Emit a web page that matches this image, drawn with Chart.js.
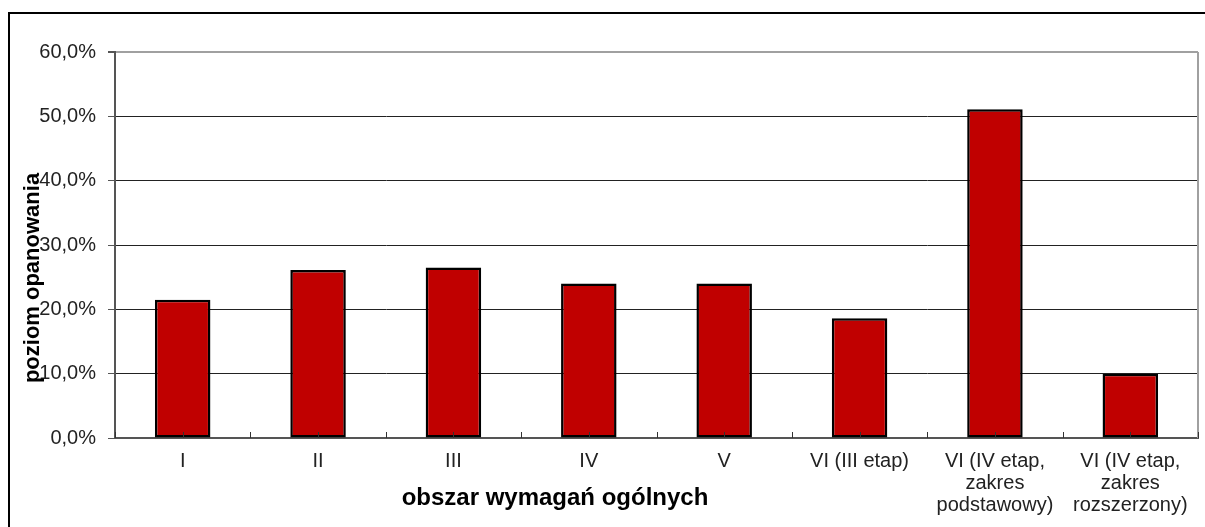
<!DOCTYPE html>
<html>
<head>
<meta charset="utf-8">
<script src="https://cdn.jsdelivr.net/npm/chart.js@4/dist/chart.umd.min.js"></script>
<style>
  html, body { margin: 0; padding: 0; background: #fff; }
  #wrap { width: 1205px; height: 527px; }
</style>
</head>
<body>
<div id="wrap"><canvas id="chart" width="1205" height="527"></canvas></div>
<script>
const categories = [
  'I', 'II', 'III', 'IV', 'V', 'VI (III etap)',
  ['VI (IV etap,', 'zakres', 'podstawowy)'],
  ['VI (IV etap,', 'zakres', 'rozszerzony)']
];
const values = [21.5, 26.1, 26.5, 24.0, 24.0, 18.6, 51.1, 10.0];
const yTitle = 'poziom opanowania';
const xTitle = 'obszar wymagań ogólnych';

const fontFamily = '"Liberation Sans", Arial, sans-serif';

// frame, inner x ticks and axis titles the way Excel draws them
const excelBits = {
  id: 'excelBits',
  afterDraw(chart) {
    const ctx = chart.ctx;
    const area = chart.chartArea;
    const x = chart.scales.x;
    ctx.save();
    // outer frame
    ctx.strokeStyle = '#000';
    ctx.lineWidth = 2;
    ctx.strokeRect(9, 13, 1220, 540);
    // plot area right border
    ctx.strokeStyle = '#a0a0a0';
    ctx.lineWidth = 2;
    ctx.beginPath();
    ctx.moveTo(area.right, area.top);
    ctx.lineTo(area.right, area.bottom);
    ctx.stroke();
    // small ticks pointing up at category edges and centres
    ctx.strokeStyle = '#333';
    ctx.lineWidth = 1;
    const n = categories.length;
    const step = (area.right - area.left) / n;
    ctx.beginPath();
    for (let i = 0; i <= n; i++) {
      const px = Math.round(area.left + i * step) + 0.5;
      ctx.moveTo(px, area.bottom);
      ctx.lineTo(px, area.bottom - 6);
      if (i < n) {
        const c = Math.round(x.getPixelForValue(i)) + 0.5;
        ctx.moveTo(c, area.bottom);
        ctx.lineTo(c, area.bottom - 6);
      }
    }
    ctx.stroke();
    // axis titles
    ctx.fillStyle = '#000';
    ctx.textAlign = 'center';
    ctx.textBaseline = 'middle';
    ctx.font = 'bold 24px ' + fontFamily;
    ctx.fillText(xTitle, 555, 498);
    ctx.translate(33, 278);
    ctx.rotate(-Math.PI / 2);
    ctx.font = 'bold 22px ' + fontFamily;
    ctx.fillText(yTitle, 0, 0);
    ctx.restore();
  }
};

new Chart(document.getElementById('chart'), {
  type: 'bar',
  data: {
    labels: categories,
    datasets: [{
      data: values,
      backgroundColor: '#C00000',
      borderColor: '#000',
      borderWidth: 2.5,
      borderSkipped: false,
      barPercentage: 0.41,
      categoryPercentage: 1
    }]
  },
  options: {
    responsive: false,
    animation: false,
    layout: { padding: { top: 52, right: 7, left: 0, bottom: 0 } },
    plugins: {
      legend: { display: false },
      tooltip: { enabled: false }
    },
    scales: {
      x: {
        afterFit(s) { s.height = 89; },
        grid: { display: false, drawTicks: false },
        border: { display: true, color: '#555', width: 2 },
        ticks: {
          padding: 12,
          color: '#222',
          maxRotation: 0,
          autoSkip: false,
          font: { family: fontFamily, size: 20, lineHeight: 1.1 }
        }
      },
      y: {
        min: 0,
        max: 60,
        afterFit(s) { s.width = 115; },
        grid: {
          color: ctx => ctx.tick && ctx.tick.value === 60 ? '#a0a0a0' : '#222',
          lineWidth: ctx => ctx.tick && ctx.tick.value === 60 ? 2 : 1,
          tickLength: 7,
          tickColor: '#555'
        },
        border: { display: true, color: '#555', width: 2 },
        ticks: {
          stepSize: 10,
          padding: 12,
          color: '#222',
          font: { family: fontFamily, size: 20 },
          callback: v => v.toFixed(1).replace('.', ',') + '%'
        }
      }
    }
  },
  plugins: [excelBits]
});
</script>
</body>
</html>
